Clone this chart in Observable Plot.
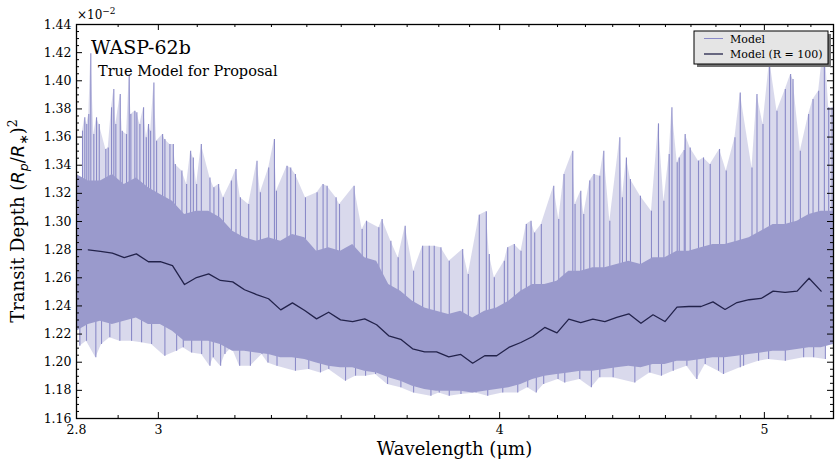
<!DOCTYPE html>
<html>
<head>
<meta charset="utf-8">
<script src="https://cdn.jsdelivr.net/npm/d3@7"></script>
<script src="https://cdn.jsdelivr.net/npm/@observablehq/plot@0.6"></script>
<style>
  body { margin: 0; background: #fff; }
  #chart { width: 840px; height: 467px; }
</style>
</head>
<body>
<div id="chart"></div>
<script>
// Transit depth values are in units of 1e-2 (see the offset label above the axis).

// Binned model spectrum, R = 100
const binWave = [2.828, 2.857, 2.886, 2.915, 2.945, 2.975, 3.005, 3.036, 3.067, 3.098,
  3.130, 3.161, 3.194, 3.226, 3.259, 3.292, 3.326, 3.359, 3.394, 3.428,
  3.463, 3.498, 3.534, 3.570, 3.606, 3.643, 3.680, 3.717, 3.755, 3.793,
  3.832, 3.871, 3.910, 3.950, 3.990, 4.031, 4.072, 4.113, 4.155, 4.198,
  4.240, 4.283, 4.327, 4.371, 4.415, 4.460, 4.506, 4.552, 4.598, 4.645,
  4.692, 4.740, 4.788, 4.837, 4.886, 4.936, 4.986, 5.037, 5.088, 5.140,
  5.192, 5.245];
const binDepth = [1.2799, 1.2787, 1.2775, 1.2744, 1.2770, 1.2714, 1.2714, 1.2687, 1.2552, 1.2602,
  1.2628, 1.2581, 1.2571, 1.2515, 1.2481, 1.2451, 1.2372, 1.2422, 1.2367, 1.2308,
  1.2355, 1.2301, 1.2289, 1.2308, 1.2266, 1.2188, 1.2163, 1.2095, 1.2074, 1.2074,
  1.2038, 1.2055, 1.1993, 1.2046, 1.2046, 1.2105, 1.2140, 1.2183, 1.2247, 1.2209,
  1.2306, 1.2282, 1.2306, 1.2289, 1.2318, 1.2344, 1.2277, 1.2337, 1.2289, 1.2391,
  1.2396, 1.2396, 1.2429, 1.2375, 1.2424, 1.2444, 1.2453, 1.2505, 1.2497, 1.2505,
  1.2597, 1.2505];

// Full-resolution model: dense core of the spectrum (upper and lower edge)
const bandWave = [2.800, 2.828, 2.857, 2.886, 2.915, 2.945, 2.975, 3.005, 3.036, 3.067, 3.098,
  3.130, 3.161, 3.194, 3.226, 3.259, 3.292, 3.326, 3.359, 3.394, 3.428,
  3.463, 3.498, 3.534, 3.570, 3.606, 3.643, 3.680, 3.717, 3.755, 3.793,
  3.832, 3.871, 3.910, 3.950, 3.990, 4.031, 4.072, 4.113, 4.155, 4.198,
  4.240, 4.283, 4.327, 4.371, 4.415, 4.460, 4.506, 4.552, 4.598, 4.645,
  4.692, 4.740, 4.788, 4.837, 4.886, 4.936, 4.986, 5.037, 5.088, 5.140,
  5.192, 5.245, 5.300];
const bandHi = [1.3334, 1.3287, 1.3287, 1.3334, 1.3263, 1.3310, 1.3239, 1.3192, 1.3144, 1.3050, 1.3073,
  1.3073, 1.3026, 1.2931, 1.2884, 1.2860, 1.2884, 1.2860, 1.2907, 1.2884, 1.2789,
  1.2813, 1.2789, 1.2836, 1.2742, 1.2718, 1.2552, 1.2505, 1.2434, 1.2386, 1.2363,
  1.2339, 1.2363, 1.2315, 1.2363, 1.2386, 1.2434, 1.2505, 1.2552, 1.2552, 1.2576,
  1.2647, 1.2647, 1.2671, 1.2671, 1.2694, 1.2718, 1.2694, 1.2742, 1.2742, 1.2789,
  1.2789, 1.2813, 1.2836, 1.2836, 1.2860, 1.2884, 1.2931, 1.2979, 1.2979, 1.3002,
  1.3050, 1.3073, 1.3073];
const bandLo = [1.2220, 1.2268, 1.2292, 1.2268, 1.2292, 1.2315, 1.2268, 1.2268, 1.2220, 1.2149, 1.2149,
  1.2149, 1.2126, 1.2078, 1.2078, 1.2066, 1.2055, 1.2031, 1.2031, 1.2019, 1.1995,
  1.1972, 1.1960, 1.1960, 1.1936, 1.1924, 1.1889, 1.1865, 1.1830, 1.1806, 1.1794,
  1.1794, 1.1794, 1.1782, 1.1794, 1.1806, 1.1818, 1.1841, 1.1877, 1.1901, 1.1913,
  1.1924, 1.1936, 1.1936, 1.1948, 1.1960, 1.1972, 1.1960, 1.1984, 1.1984, 1.2007,
  1.2007, 1.2019, 1.2031, 1.2031, 1.2043, 1.2055, 1.2066, 1.2078, 1.2078, 1.2090,
  1.2102, 1.2102, 1.2126];

// Full-resolution model: individual peaks of the line-by-line spectrum
const peakWave = [2.8142, 2.8197, 2.8244, 2.8292, 2.8340, 2.8412, 2.8477, 2.8542, 2.8701, 2.8759,
  2.8839, 2.8895, 2.8944, 2.9052, 2.9101, 2.9206, 2.9273, 2.9313, 2.9412, 2.9462,
  2.9537, 2.9629, 2.9697, 2.9754, 2.9805, 2.9888, 2.9956, 3.0108, 3.0166, 3.0294,
  3.0381, 3.0432, 3.0602, 3.0724, 3.0828, 3.0898, 3.0984, 3.1107, 3.1334, 3.1439,
  3.1564, 3.1690,
  3.1905, 3.2029, 3.2148, 3.2374, 3.2602, 3.2695, 3.2925, 3.3084, 3.3140, 3.3438,
  3.3542, 3.3676, 3.3961, 3.4295, 3.4469, 3.4586, 3.4849, 3.4950, 3.5383, 3.5623,
  3.5755, 3.6128,
  3.6229, 3.6496, 3.6721, 3.6939, 3.7202, 3.7486, 3.7695, 3.7855, 3.8069, 3.8337,
  3.8773, 3.8957, 3.9320, 3.9553, 3.9653, 3.9821, 4.0159, 4.0274, 4.0499, 4.0728,
  4.0911, 4.1074,
  4.1200, 4.1431, 4.1867, 4.2044, 4.2232, 4.2544, 4.2626, 4.2832, 4.2940, 4.3158,
  4.3315, 4.3524, 4.3671, 4.3893, 4.4265, 4.4362, 4.4512, 4.4663, 4.5041, 4.5461,
  4.5731, 4.5940, 4.6146, 4.6252, 4.6459, 4.6538, 4.6735,
  4.6772, 4.6970, 4.7300, 4.7500, 4.7770, 4.8146, 4.8419, 4.8776, 4.8994, 4.9481,
  4.9690, 4.9942, 5.0221, 5.0535, 5.0891, 5.1119, 5.1223, 5.1539, 5.1901, 5.2094,
  5.2341, 5.2594, 5.2785, 5.2937];
const peakDepth = [1.3642, 1.3737, 1.3689, 1.3760, 1.4192, 1.3618, 1.3737, 1.3689, 1.3512, 1.3523,
  1.3808, 1.3938, 1.3689, 1.3902, 1.3642, 1.3618, 1.4045, 1.3760, 1.3784, 1.3772,
  1.3689, 1.3808, 1.3595, 1.3689, 1.3642, 1.3985, 1.3571, 1.3618, 1.3583, 1.3547,
  1.3547, 1.3405, 1.3358, 1.3263, 1.3500, 1.3452, 1.3263, 1.3547, 1.3310, 1.3239,
  1.3263, 1.3168,
  1.3287, 1.3369, 1.3168, 1.3121, 1.3429, 1.3204, 1.3381, 1.3583, 1.3215, 1.3393,
  1.3381, 1.3334, 1.3168, 1.3204, 1.3263, 1.3251, 1.3168, 1.3121, 1.3251, 1.2943,
  1.3002, 1.2955,
  1.3014, 1.2860, 1.2742, 1.2967, 1.2647, 1.2825, 1.2825, 1.2825, 1.2813, 1.2718,
  1.2801, 1.2623, 1.3045, 1.3069, 1.2765, 1.2600, 1.2718, 1.2813, 1.2836, 1.2789,
  1.2979, 1.3002,
  1.2919, 1.2979, 1.3251, 1.3014, 1.3334, 1.3500, 1.3121, 1.3215, 1.3050, 1.3287,
  1.3334, 1.3322, 1.3500, 1.3002, 1.3595, 1.3168, 1.3452, 1.3298, 1.3180, 1.3073,
  1.3694, 1.3144, 1.3476, 1.3808, 1.3417, 1.3452, 1.3504,
  1.3618, 1.3523, 1.3429, 1.3452, 1.3405, 1.3512, 1.3358, 1.3595, 1.3914, 1.3381,
  1.3902, 1.3689, 1.4150, 1.3784, 1.3938, 1.4045, 1.4009, 1.3500, 1.3760, 1.3867,
  1.3926, 1.4300, 1.3808, 1.3808];

// Full-resolution model: individual dips of the spectrum
const dipWave = [2.8079, 2.8237, 2.8460, 2.8597, 2.8798, 2.9042, 2.9330, 2.9579, 2.9830, 3.0166,
  3.0466, 3.0637, 3.0854, 3.1115, 3.1334, 3.1423, 3.1617, 3.1733,
  3.1921, 3.2129, 3.2420, 3.2739, 3.2905, 3.3156, 3.3676, 3.4056, 3.4394, 3.4636,
  3.5127, 3.5425, 3.5725, 3.6028,
  3.6394, 3.6805, 3.7202, 3.7749, 3.8014, 3.8337, 3.8717, 3.9211, 3.9600, 4.0105,
  4.0615, 4.0958,
  4.1255, 4.1513, 4.2019, 4.2257, 4.2796, 4.3217, 4.3524, 4.4016, 4.4829, 4.5400,
  4.5847, 4.6302,
  4.6839, 4.7236, 4.7568, 4.8105, 4.8308, 4.8994, 4.9131, 4.9757, 5.0179, 5.0891,
  5.1682, 5.2121, 5.2637];
const dipDepth = [1.2114, 1.2149, 1.2031, 1.2126, 1.2173, 1.2149, 1.2149, 1.2138, 1.2126, 1.2043,
  1.2078, 1.2102, 1.2066, 1.2055, 1.1972, 1.2031, 1.1972, 1.2055,
  1.2102, 1.1972, 1.1972, 1.2055, 1.1995, 1.1972, 1.1936, 1.1948, 1.1924, 1.1948,
  1.1865, 1.1901, 1.1901, 1.1913,
  1.1841, 1.1818, 1.1782, 1.1758, 1.1782, 1.1758, 1.1770, 1.1782, 1.1758, 1.1782,
  1.1782, 1.1818,
  1.1782, 1.1841, 1.1877, 1.1853, 1.1877, 1.1818, 1.1889, 1.1889, 1.1853, 1.1924,
  1.1901, 1.1936,
  1.1972, 1.1877, 1.1984, 1.1936, 1.1913, 1.1960, 1.1972, 1.2007, 1.2019, 1.2007,
  1.2031, 1.2031, 1.2019];

// Axis ticks and labels
const xTicks = [2.8, 3, 4, 5];
const xTickLabels = ["2.8", "3", "4", "5"];
const xMinorTicks = [2.9, 3.1, 3.2, 3.3, 3.4, 3.5, 3.6, 3.7, 3.8, 3.9,
  4.1, 4.2, 4.3, 4.4, 4.5, 4.6, 4.7, 4.8, 4.9, 5.1, 5.2];
const yTicks = [1.16, 1.18, 1.20, 1.22, 1.24, 1.26, 1.28, 1.30, 1.32, 1.34, 1.36, 1.38, 1.40, 1.42, 1.44];
const legendLabels = ["Model", "Model (R = 100)"];
const titleText = "WASP-62b";
const subtitleText = "True Model for Proposal";

// Styling
const MODEL_FILL = "#9a9acc";
const MODEL_LINE = "#8a8ac8";
const BINNED_LINE = "#22224a";
const SERIF = "'DejaVu Serif', serif";

const W = 840, H = 467;
const mL = 76, mR = 7, mT = 24, mB = 49;
const plotW = W - mL - mR, plotH = H - mT - mB;
const majorLen = 6, minorLen = 3;

const yMinorTicks = [];
for (let i = 0; i < yTicks.length - 1; i++) {
  for (let k = 1; k < 4; k++) yMinorTicks.push(yTicks[i] + (yTicks[i + 1] - yTicks[i]) * k / 4);
}

const binRows = binWave.map((w, i) => ({w, v: binDepth[i]}));
const bandRows = bandWave.map((w, i) => ({w, hi: bandHi[i], lo: bandLo[i]}));
// each peak/dip is drawn from the local mean level of the spectrum out to its extreme
const meanAt = d3.scaleLog().domain(binWave).range(binDepth).clamp(true);
const peakRows = peakWave.map((w, i) => ({w, base: meanAt(w), v: peakDepth[i]}));
const dipRows = dipWave.map((w, i) => ({w, base: meanAt(w), v: dipDepth[i]}));

const svg = Plot.plot({
  width: W, height: H,
  marginLeft: mL, marginRight: mR, marginTop: mT, marginBottom: mB,
  style: {fontFamily: SERIF, fontSize: "12.5px", color: "black", background: "white", overflow: "visible"},
  x: {type: "log", domain: [2.8, 5.3]},
  y: {domain: [1.16, 1.44]},
  marks: [
    // faint envelope of the unresolved line forest between neighbouring peaks / dips
    Plot.areaY(peakRows, {x: "w", y1: "base", y2: "v", fill: MODEL_FILL, fillOpacity: 0.38, clip: true}),
    Plot.areaY(dipRows, {x: "w", y1: "base", y2: "v", fill: MODEL_FILL, fillOpacity: 0.38, clip: true}),
    Plot.ruleX(peakRows, {x: "w", y1: "base", y2: "v", stroke: MODEL_LINE, strokeWidth: 1.1, clip: true}),
    Plot.ruleX(dipRows, {x: "w", y1: "base", y2: "v", stroke: MODEL_LINE, strokeWidth: 1.1, clip: true}),
    Plot.areaY(bandRows, {x: "w", y1: "lo", y2: "hi", fill: MODEL_FILL, clip: true}),
    Plot.line(binRows, {x: "w", y: "v", stroke: BINNED_LINE, strokeWidth: 1.3}),
    // inward ticks on all four sides
    Plot.ruleX(xTicks, {stroke: "black", insetTop: plotH - majorLen}),
    Plot.ruleX(xTicks, {stroke: "black", insetBottom: plotH - majorLen}),
    Plot.ruleX(xMinorTicks, {stroke: "black", insetTop: plotH - minorLen}),
    Plot.ruleX(xMinorTicks, {stroke: "black", insetBottom: plotH - minorLen}),
    Plot.ruleY(yTicks, {stroke: "black", insetRight: plotW - majorLen}),
    Plot.ruleY(yTicks, {stroke: "black", insetLeft: plotW - majorLen}),
    Plot.ruleY(yMinorTicks, {stroke: "black", insetRight: plotW - minorLen}),
    Plot.ruleY(yMinorTicks, {stroke: "black", insetLeft: plotW - minorLen}),
    Plot.axisX(xTicks, {tickSize: 0, tickPadding: 7, label: null,
      tickFormat: d => xTickLabels[xTicks.indexOf(d)]}),
    Plot.axisY(yTicks, {tickSize: 0, tickPadding: 5, label: null, tickFormat: d3.format(".2f")}),
    Plot.frame({stroke: "black", strokeWidth: 1.3})
  ]
});

const root = d3.select(svg);
const addText = (x, y, size) => root.append("text").attr("x", x).attr("y", y)
  .attr("text-anchor", "start").attr("font-family", SERIF).attr("font-size", size).attr("fill", "black");

// offset label for the y axis (values x 1e-2)
const off = addText(77, 19, 12);
off.append("tspan").text("\u00d710");
off.append("tspan").attr("font-size", 9).attr("dy", -5).text("\u22122");

// title block inside the axes
addText(91, 54, 19).text(titleText);
addText(98, 76, 14.5).text(subtitleText);

// x axis label
addText(mL + plotW / 2, 455, 18).attr("text-anchor", "middle").text("Wavelength (\u03bcm)");

// y axis label with math
const yl = root.append("text").attr("transform", `translate(24,${mT + plotH / 2}) rotate(-90)`)
  .attr("text-anchor", "middle").attr("font-family", SERIF).attr("font-size", 18).attr("fill", "black");
const MATH = "'DejaVu Sans', sans-serif";
yl.append("tspan").text("Transit Depth (");
yl.append("tspan").attr("font-family", MATH).attr("font-style", "italic").text("R");
yl.append("tspan").attr("font-family", MATH).attr("font-style", "italic").attr("font-size", 12.5).attr("dy", 4).text("p");
yl.append("tspan").attr("dy", -4).text("/");
yl.append("tspan").attr("font-family", MATH).attr("font-style", "italic").text("R");
yl.append("tspan").attr("font-family", MATH).attr("font-size", 12.5).attr("dy", 4).text("\u2217");
yl.append("tspan").attr("dy", -4).text(")");
yl.append("tspan").attr("font-size", 12.5).attr("dy", -7).text("2");

// legend with drop shadow
const lg = root.append("g").attr("font-family", SERIF).attr("font-size", 11).attr("text-anchor", "start");
lg.append("rect").attr("x", 697).attr("y", 34).attr("width", 134).attr("height", 33).attr("fill", "#707070");
lg.append("rect").attr("x", 694).attr("y", 31).attr("width", 134).attr("height", 33)
  .attr("fill", "#e5e5e5").attr("stroke", "black").attr("stroke-width", 1);
const legendColors = [MODEL_LINE, BINNED_LINE];
legendLabels.forEach((label, i) => {
  const y = 38.5 + i * 15.5;
  lg.append("line").attr("x1", 704).attr("x2", 723).attr("y1", y).attr("y2", y)
    .attr("stroke", legendColors[i]).attr("stroke-width", i ? 1.3 : 1);
  lg.append("text").attr("x", 730).attr("y", y + 4).attr("fill", "black").text(label);
});

document.getElementById("chart").appendChild(svg);
</script>
</body>
</html>
